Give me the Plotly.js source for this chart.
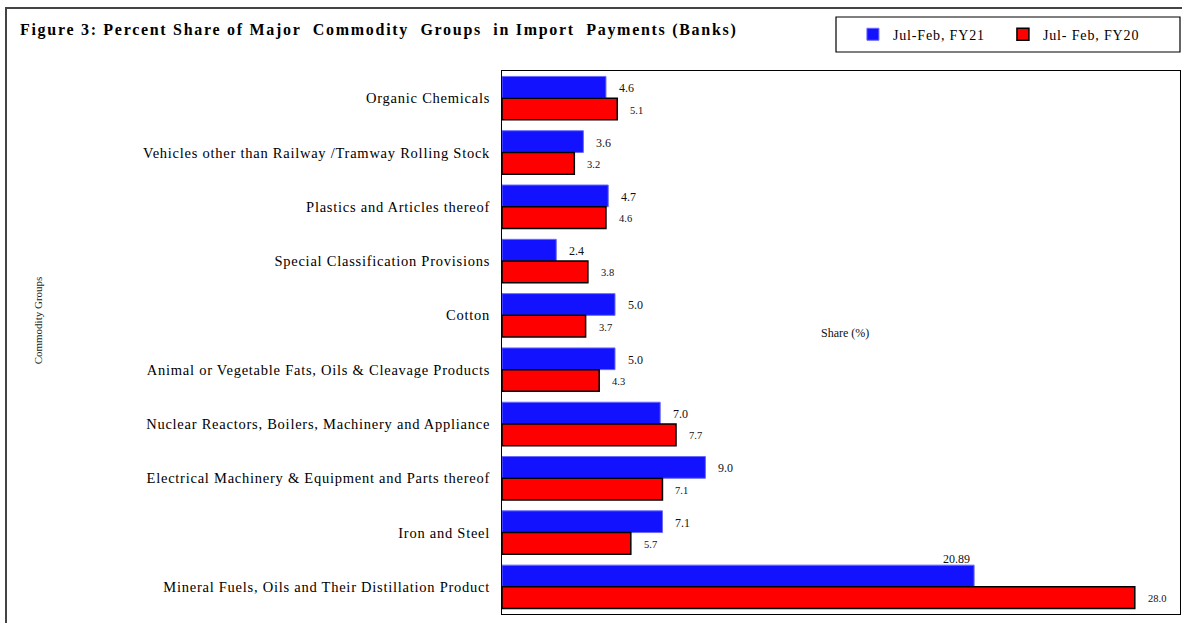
<!DOCTYPE html>
<html>
<head>
<meta charset="utf-8">
<script src="https://cdn.plot.ly/plotly-3.0.1.min.js"></script>
<style>
html,body{margin:0;padding:0;background:#fff;}
#chart{width:1182px;height:623px;}
#chart .ytick text{letter-spacing:0.75px;}
#chart .gtitle{letter-spacing:1.7px;}
#chart .legendtext{letter-spacing:0.85px;}
</style>
</head>
<body>
<div id="chart"></div>
<script>
const categories = [
  "Organic Chemicals",
  "Vehicles other than Railway /Tramway Rolling Stock",
  "Plastics and Articles thereof",
  "Special Classification Provisions",
  "Cotton",
  "Animal or Vegetable Fats, Oils & Cleavage Products",
  "Nuclear Reactors, Boilers, Machinery and Appliance",
  "Electrical Machinery & Equipment and Parts thereof",
  "Iron and Steel",
  "Mineral Fuels, Oils and Their Distillation Product"
];
const fy21Values = [4.6, 3.6, 4.7, 2.4, 5.0, 5.0, 7.0, 9.0, 7.1, 20.89];
const fy21Labels = ["4.6", "3.6", "4.7", "2.4", "5.0", "5.0", "7.0", "9.0", "7.1", "20.89"];
const fy20Values = [5.1, 3.2, 4.6, 3.8, 3.7, 4.3, 7.7, 7.1, 5.7, 28.0];
const fy20Labels = ["5.1", "3.2", "4.6", "3.8", "3.7", "4.3", "7.7", "7.1", "5.7", "28.0"];
const seriesNames = ["Jul-Feb, FY21", "Jul- Feb, FY20"];
const titleText = "Figure 3: Percent Share of Major\u00a0 Commodity\u00a0 Groups\u00a0 in Import\u00a0 Payments (Banks)";

const FONT = "Liberation Serif, Times New Roman, serif";

const traces = [
  {
    type: "bar", orientation: "h", name: seriesNames[0],
    y: categories, x: fy21Values,
    marker: {color: "#1212ff", line: {color: "#6a6aff", width: 1}},
    hoverinfo: "none"
  },
  {
    type: "bar", orientation: "h", name: seriesNames[1],
    y: categories, x: fy20Values,
    marker: {color: "#ff0000", line: {color: "#000000", width: 1.5}},
    hoverinfo: "none"
  }
];

const annotations = [];
fy21Values.forEach((v, i) => {
  if (v > 20) {
    annotations.push({x: v, y: i - 0.4, xref: "x", yref: "y", text: fy21Labels[i], showarrow: false,
      xanchor: "right", yanchor: "bottom", xshift: -2, yshift: -3,
      font: {family: FONT, size: 12, color: "#111"}});
  } else {
    annotations.push({x: v, y: i - 0.2, xref: "x", yref: "y", text: fy21Labels[i], showarrow: false,
      xanchor: "left", yanchor: "middle", xshift: 11, yshift: -1,
      font: {family: FONT, size: 12, color: "#111"}});
  }
});
fy20Values.forEach((v, i) => {
  annotations.push({x: v, y: i + 0.2, xref: "x", yref: "y", text: fy20Labels[i], showarrow: false,
    xanchor: "left", yanchor: "middle", xshift: 11, yshift: -1,
    font: {family: FONT, size: 10.5, color: "#111"}});
});
annotations.push({xref: "paper", yref: "paper", x: -0.696, y: 0.541, text: "Commodity Groups",
  textangle: -90, showarrow: false, font: {family: FONT, size: 11, color: "#222"}});
annotations.push({xref: "paper", yref: "paper", x: 0.506, y: 0.5175, text: "Share (%)",
  showarrow: false, font: {family: FONT, size: 12, color: "#111"}});

const layout = {
  width: 1182, height: 623,
  margin: {l: 502, r: 2, t: 71, b: 9},
  paper_bgcolor: "#ffffff", plot_bgcolor: "#ffffff",
  title: {text: titleText, xref: "container", yref: "container", x: 20/1182, xanchor: "left",
    y: 1 - 29/623, yanchor: "middle", font: {family: FONT, size: 16, color: "#000", weight: "bold"}},
  barmode: "group", bargap: 0.2, bargroupgap: 0,
  showlegend: true,
  legend: {orientation: "h", x: 0.5176, xanchor: "left", y: 1.0964, yanchor: "top",
    font: {family: FONT, size: 14, color: "#000"}, bgcolor: "rgba(0,0,0,0)", borderwidth: 0,
    entrywidth: 105, traceorder: "normal"},
  xaxis: {range: [0, 30], showticklabels: false, ticks: "", showgrid: false, zeroline: false,
    showline: true, mirror: true, linecolor: "#000", linewidth: 1, fixedrange: true},
  yaxis: {type: "category", autorange: "reversed", ticks: "", showgrid: false, zeroline: false,
    showline: true, mirror: true, linecolor: "#000", linewidth: 1, ticklabelstandoff: 8,
    tickfont: {family: FONT, size: 14.5, color: "#000"}, fixedrange: true},
  shapes: [
    {type: "rect", xref: "paper", yref: "paper", x0: (836-502)/678, x1: (1180-502)/678,
      y0: 1 + (71-52)/543, y1: 1 + (71-17)/543, line: {color: "#000", width: 1.2}, fillcolor: "rgba(0,0,0,0)"},
    {type: "rect", xref: "paper", yref: "paper", x0: (6-502)/678, x1: 1.02,
      y0: -0.05, y1: 1 + (71-8)/543, line: {color: "#444", width: 2}, fillcolor: "rgba(0,0,0,0)", layer: "below"}
  ],
  annotations: annotations
};

Plotly.newPlot("chart", traces, layout, {displayModeBar: false, staticPlot: true});
</script>
</body>
</html>
